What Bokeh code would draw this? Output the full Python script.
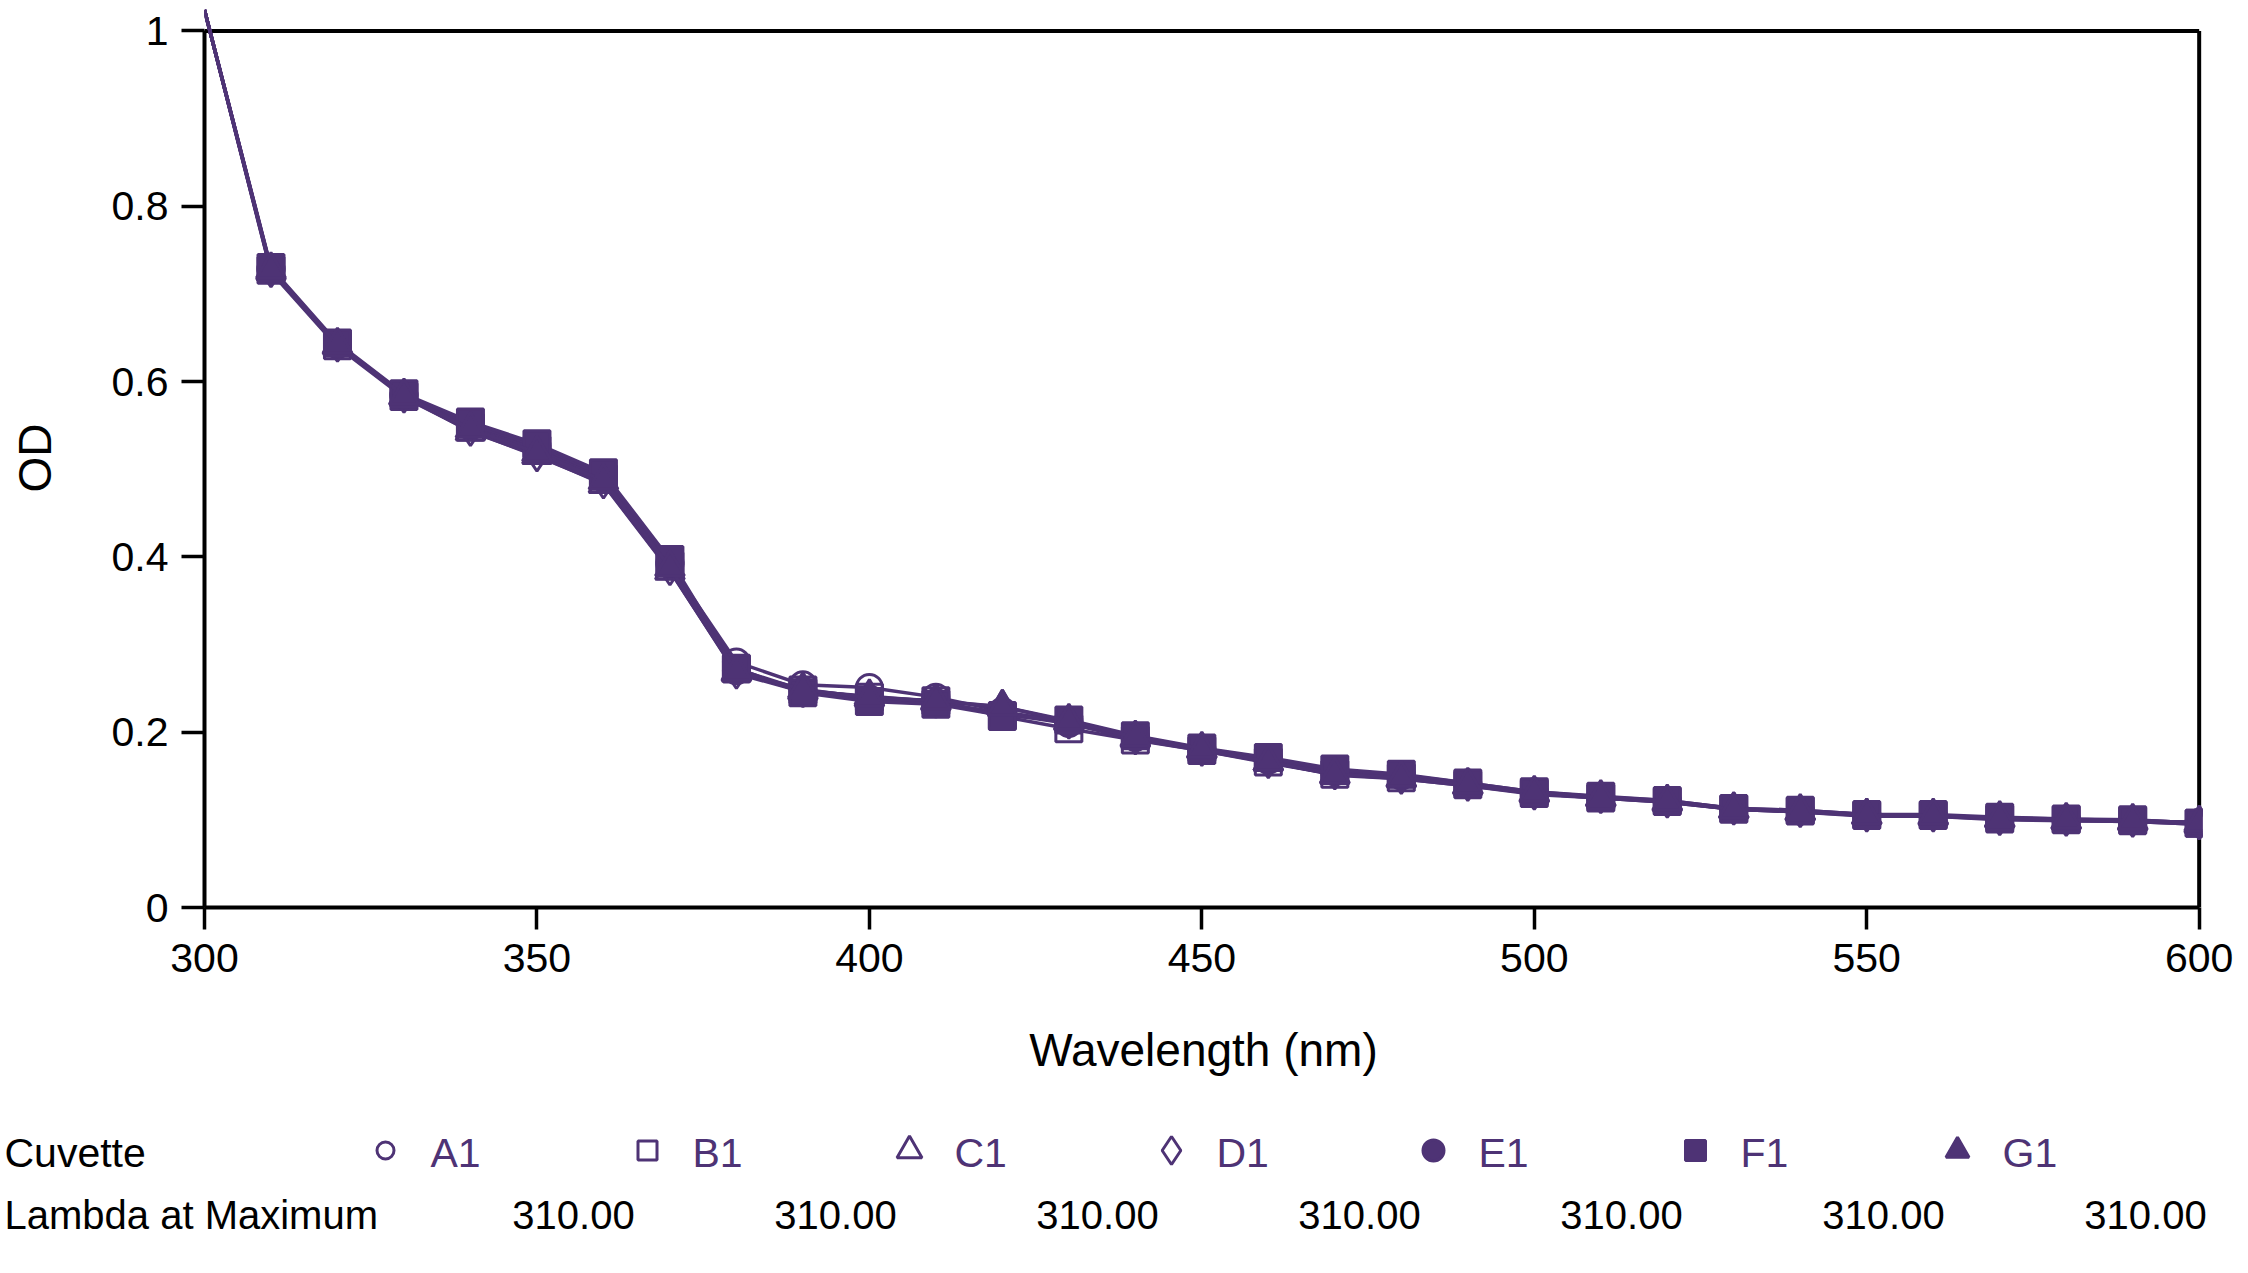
from bokeh.plotting import figure
from bokeh.models import Range1d, FixedTicker, CustomJSTickFormatter
from bokeh.layouts import column
from bokeh.embed import file_html
from bokeh.resources import INLINE
from bokeh.core.properties import value

# ---------------- data ----------------
wavelength = [300, 310, 320, 330, 340, 350, 360, 370, 380, 390, 400,
              410, 420, 430, 440, 450, 460, 470, 480, 490, 500,
              510, 520, 530, 540, 550, 560, 570, 580, 590, 600]

od_A1 = [1.024, 0.728, 0.642, 0.584, 0.549, 0.524, 0.490, 0.392, 0.280, 0.254, 0.251,
         0.240, 0.224, 0.210, 0.194, 0.180, 0.168, 0.155, 0.150, 0.141, 0.131,
         0.126, 0.121, 0.113, 0.110, 0.106, 0.105, 0.102, 0.100, 0.099, 0.097]
od_B1 = [1.024, 0.727, 0.641, 0.583, 0.548, 0.522, 0.489, 0.390, 0.272, 0.248, 0.240,
         0.236, 0.218, 0.204, 0.191, 0.179, 0.166, 0.152, 0.148, 0.140, 0.130,
         0.125, 0.121, 0.112, 0.110, 0.105, 0.105, 0.101, 0.100, 0.099, 0.096]
od_C1 = [1.024, 0.726, 0.641, 0.583, 0.543, 0.516, 0.483, 0.384, 0.268, 0.247, 0.241,
         0.235, 0.229, 0.212, 0.193, 0.180, 0.166, 0.151, 0.147, 0.139, 0.130,
         0.125, 0.120, 0.112, 0.109, 0.105, 0.104, 0.101, 0.099, 0.098, 0.095]
od_D1 = [1.024, 0.725, 0.640, 0.582, 0.544, 0.515, 0.484, 0.385, 0.267, 0.246, 0.240,
         0.234, 0.221, 0.210, 0.192, 0.179, 0.165, 0.152, 0.147, 0.139, 0.129,
         0.125, 0.120, 0.112, 0.109, 0.104, 0.104, 0.100, 0.099, 0.098, 0.095]
od_E1 = [1.024, 0.729, 0.643, 0.585, 0.551, 0.527, 0.493, 0.394, 0.270, 0.247, 0.238,
         0.234, 0.222, 0.213, 0.195, 0.181, 0.170, 0.157, 0.151, 0.142, 0.132,
         0.126, 0.122, 0.113, 0.111, 0.106, 0.105, 0.102, 0.101, 0.099, 0.097]
od_F1 = [1.024, 0.730, 0.644, 0.586, 0.554, 0.529, 0.496, 0.397, 0.273, 0.245, 0.235,
         0.232, 0.219, 0.214, 0.196, 0.182, 0.171, 0.158, 0.152, 0.142, 0.132,
         0.127, 0.122, 0.113, 0.111, 0.106, 0.106, 0.103, 0.101, 0.100, 0.096]
od_G1 = [1.024, 0.728, 0.642, 0.584, 0.546, 0.519, 0.487, 0.388, 0.269, 0.249, 0.239,
         0.236, 0.229, 0.213, 0.194, 0.181, 0.166, 0.152, 0.148, 0.140, 0.131,
         0.126, 0.121, 0.112, 0.110, 0.105, 0.105, 0.102, 0.100, 0.099, 0.097]

cuvettes = ["A1", "B1", "C1", "D1", "E1", "F1", "G1"]
series = [od_A1, od_B1, od_C1, od_D1, od_E1, od_F1, od_G1]
lambda_at_max = [310.00, 310.00, 310.00, 310.00, 310.00, 310.00, 310.00]

x_ticks = [300, 350, 400, 450, 500, 550, 600]
y_ticks = [0, 0.2, 0.4, 0.6, 0.8, 1]
X_MIN, X_MAX = 300, 600
Y_MIN, Y_MAX = 0, 1

# ---------------- style ----------------
PURPLE = "#4e3375"
FONT = "Liberation Sans"
markers = ["circle", "square", "triangle", "diamond", "circle", "square", "triangle"]
filled = [False, False, False, False, True, True, True]
plot_sizes = [26, 26, 29, 30, 26, 26, 29]
legend_sizes = [17, 19, 25, 28, 21, 20, 23]

W = 2244
H_MAIN = 1100
H_LEG = 168

p = figure(width=W, height=H_MAIN,
           x_range=Range1d(X_MIN, X_MAX + 0.5), y_range=Range1d(Y_MIN, 1.0256),
           output_backend="svg", toolbar_location=None,
           min_border_left=204, min_border_right=42, min_border_top=8, min_border_bottom=193)
p.frame_align = False
p.outline_line_color = None
p.grid.visible = False
p.background_fill_color = "white"
p.border_fill_color = "white"

for ax, ticks in ((p.xaxis, x_ticks), (p.yaxis, y_ticks)):
    ax.ticker = FixedTicker(ticks=ticks)
    ax.axis_line_width = 4
    ax.axis_line_color = "black"
    ax.major_tick_line_width = 3.5
    ax.major_tick_line_color = "black"
    ax.major_tick_in = 0
    ax.minor_tick_line_color = None
    ax.major_label_text_font = FONT
    ax.major_label_text_font_size = "41px"
    ax.major_label_text_color = "black"
    ax.axis_label_text_font = FONT
    ax.axis_label_text_font_size = "46px"
    ax.axis_label_text_font_style = "normal"
    ax.axis_label_text_color = "black"

p.xaxis.bounds = (X_MIN, X_MAX)
p.yaxis.bounds = (Y_MIN, Y_MAX)
p.xaxis.major_tick_out = 22
p.yaxis.major_tick_out = 23
p.xaxis.major_label_standoff = 14
p.yaxis.major_label_standoff = 13
p.xaxis.axis_label = "Wavelength (nm)"
p.yaxis.axis_label = "OD"
p.xaxis.axis_label_standoff = 49
p.yaxis.axis_label_standoff = 48
p.yaxis.formatter = CustomJSTickFormatter(code="return (Math.round(tick*10)/10).toString();")

# frame top and right lines
p.segment(x0=[X_MIN], y0=[Y_MAX], x1=[X_MAX], y1=[Y_MAX], line_width=4, line_color="black")
p.segment(x0=[X_MAX], y0=[Y_MIN], x1=[X_MAX], y1=[Y_MAX], line_width=4, line_color="black")

for name, od, mk, fl, sz in zip(cuvettes, series, markers, filled, plot_sizes):
    p.line(wavelength, od, line_width=3.5, line_color=PURPLE)
    p.scatter(wavelength[1:], od[1:], marker=mk, size=sz,
              fill_color=PURPLE if fl else None, line_color=PURPLE, line_width=3)

# ---------------- legend / table ----------------
leg = figure(width=W, height=H_LEG, x_range=Range1d(0, W), y_range=Range1d(H_LEG, 0),
             output_backend="svg", toolbar_location=None,
             x_axis_type=None, y_axis_type=None,
             min_border_left=0, min_border_right=0, min_border_top=0, min_border_bottom=0)
leg.frame_align = False
leg.outline_line_color = None
leg.grid.visible = False
leg.background_fill_color = "white"
leg.border_fill_color = "white"

ROW1, ROW2 = 52, 114
MK_X0, COL_DX, TXT_DX, VAL_X0 = 385, 262, 45, 573

leg.text(x=[4], y=[ROW1], text=["Cuvette"], text_font=value(FONT), text_font_size="41px",
         text_color="black", text_align="left", text_baseline="middle")
leg.text(x=[4], y=[ROW2], text=["Lambda at Maximum"], text_font=value(FONT), text_font_size="40px",
         text_color="black", text_align="left", text_baseline="middle")

for i, (name, mk, fl, sz, lm) in enumerate(zip(cuvettes, markers, filled, legend_sizes, lambda_at_max)):
    mx = MK_X0 + i * COL_DX
    leg.scatter([mx], [ROW1 - 2], marker=mk, size=sz,
                fill_color=PURPLE if fl else None, line_color=PURPLE, line_width=3)
    leg.text(x=[mx + TXT_DX], y=[ROW1], text=[name], text_font=value(FONT), text_font_size="41px",
             text_color=PURPLE, text_align="left", text_baseline="middle")
    leg.text(x=[VAL_X0 + i * COL_DX], y=[ROW2], text=["%.2f" % lm], text_font=value(FONT),
             text_font_size="40px", text_color="black", text_align="center", text_baseline="middle")

layout = column(p, leg, spacing=0)
open("out.html", "w").write(file_html(layout, INLINE))
